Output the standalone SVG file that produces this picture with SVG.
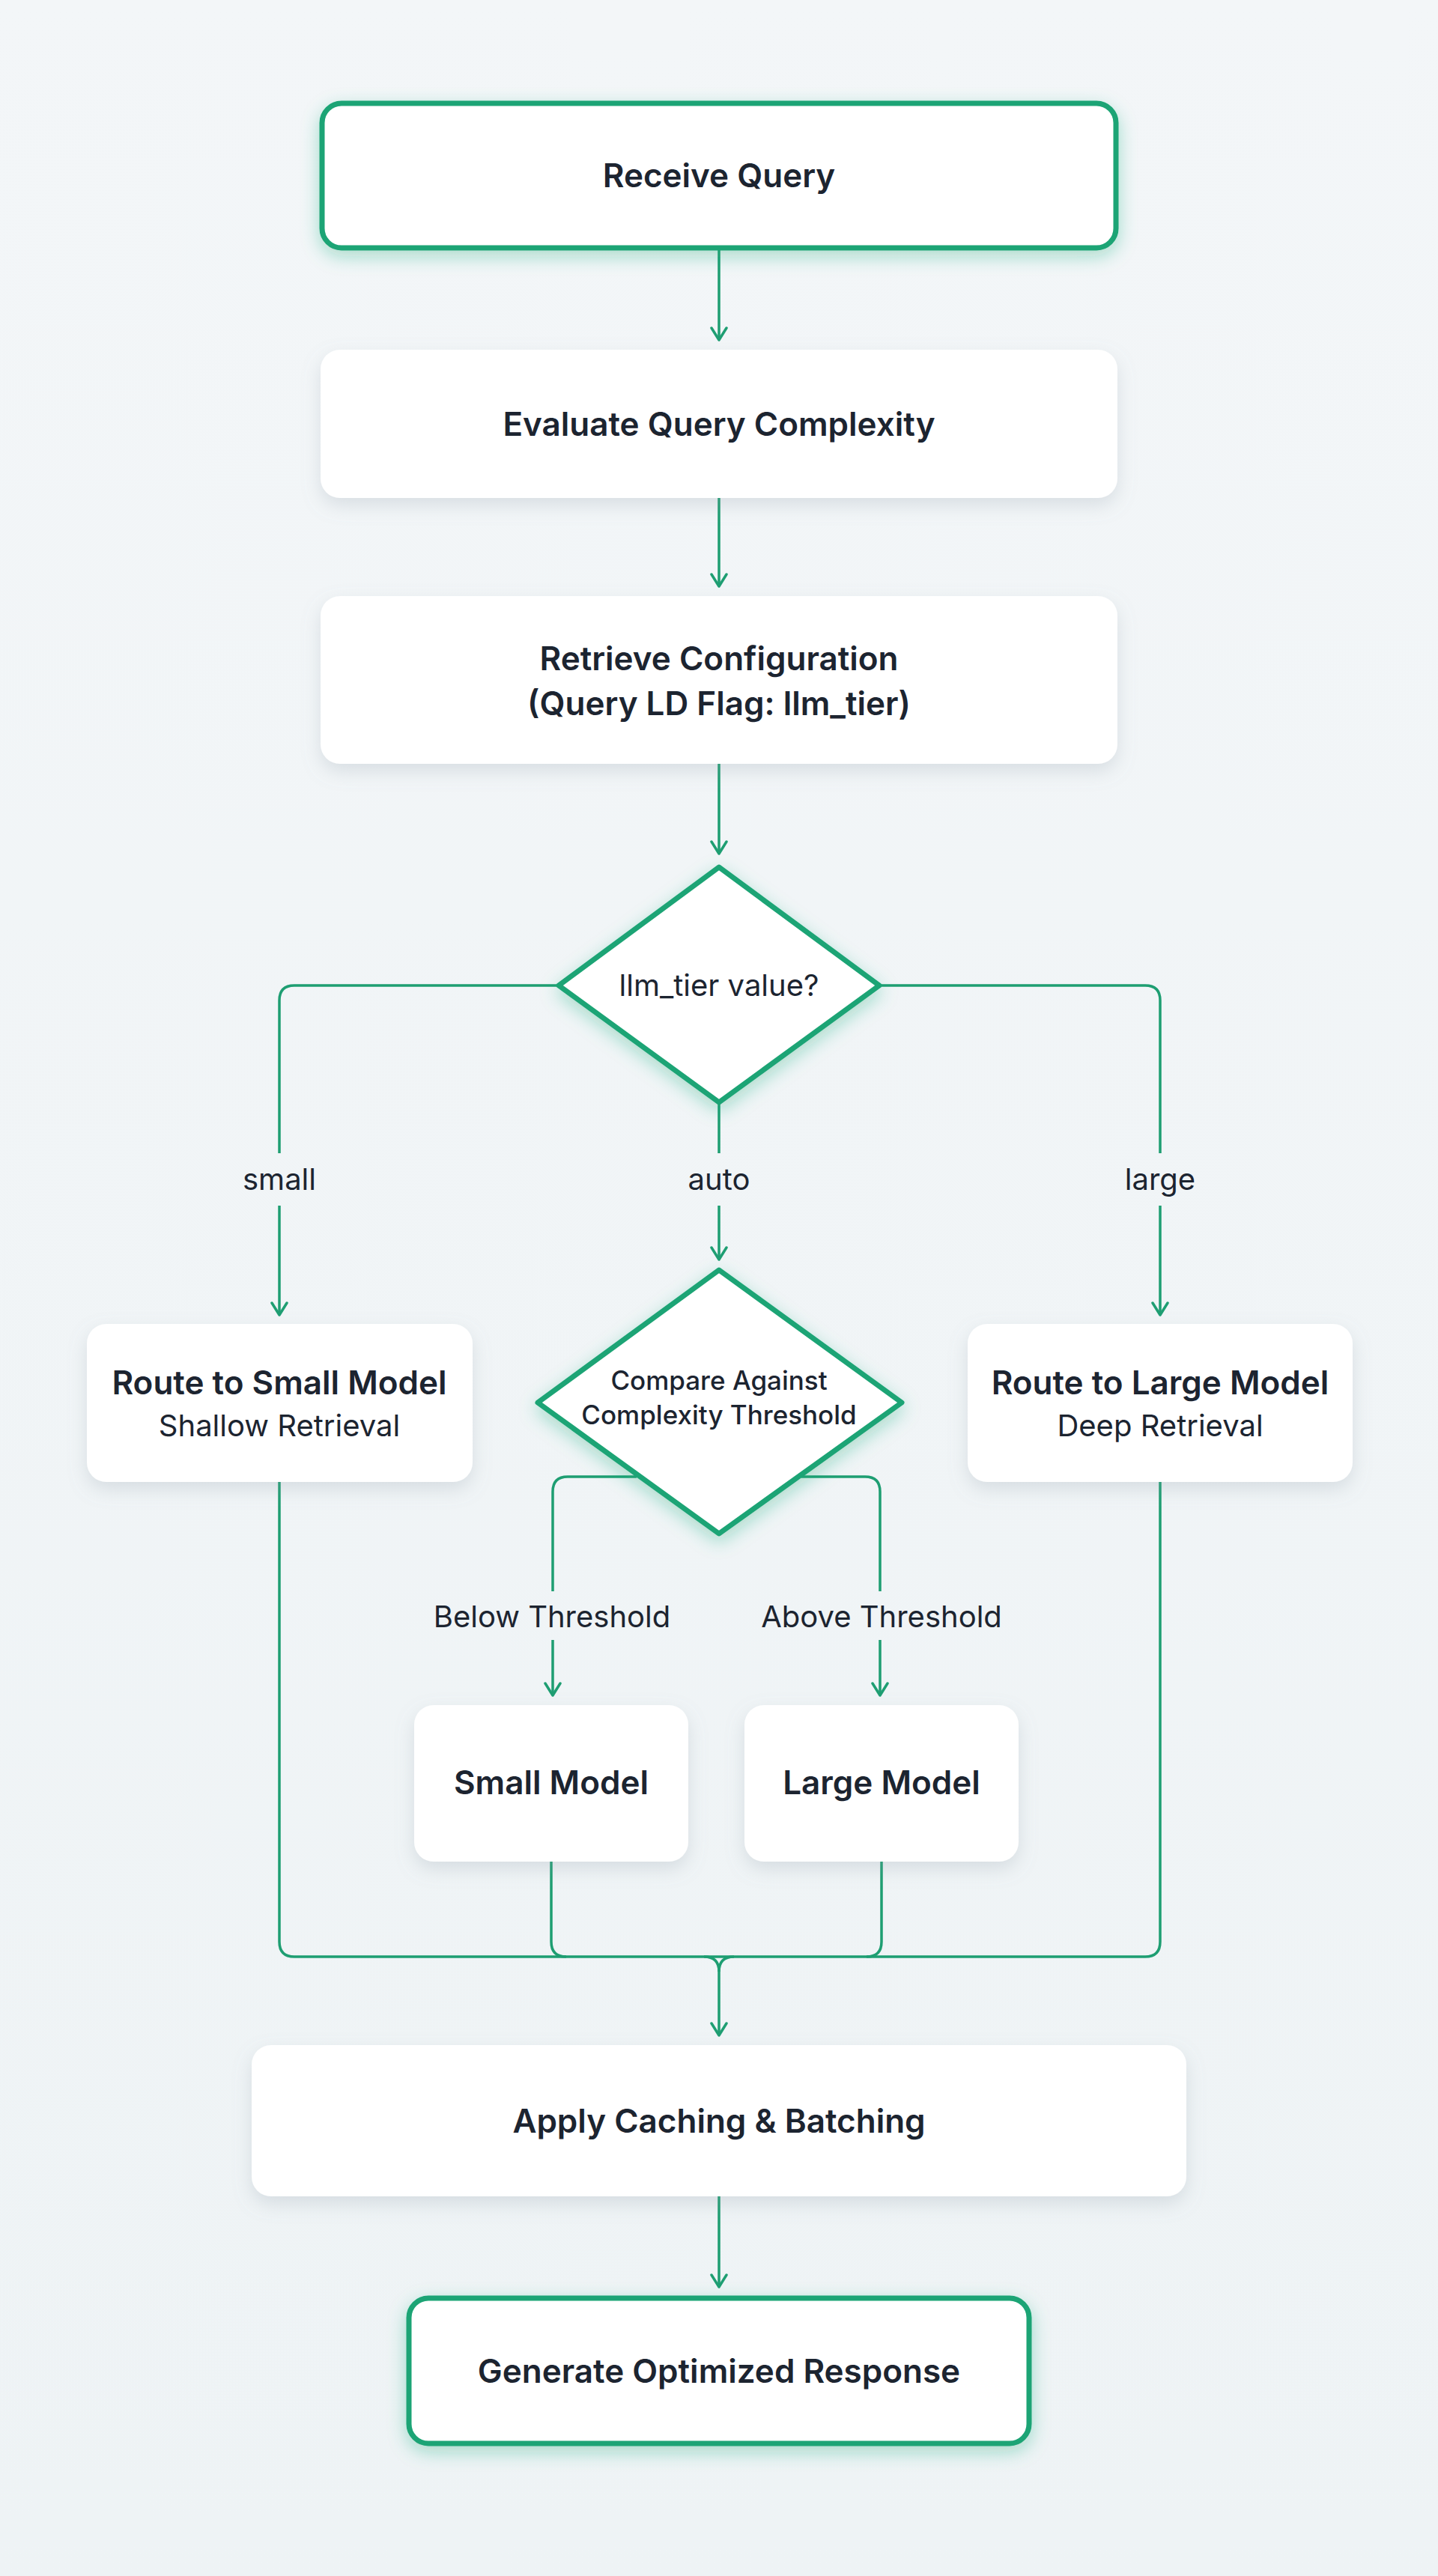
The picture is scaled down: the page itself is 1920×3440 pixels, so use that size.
<svg xmlns="http://www.w3.org/2000/svg" width="1920" height="3440" viewBox="0 0 1920 3440">
<defs>
<linearGradient id="bg" x1="0" y1="0" x2="0" y2="1"><stop offset="0" stop-color="#f3f6f8"/><stop offset="1" stop-color="#eef3f5"/></linearGradient>
<filter id="sh" x="-20%" y="-30%" width="140%" height="170%"><feDropShadow dx="0" dy="10" stdDeviation="12" flood-color="#8a99a6" flood-opacity="0.25"/></filter>
<filter id="gl" x="-20%" y="-30%" width="140%" height="170%"><feDropShadow dx="0" dy="8" stdDeviation="12" flood-color="#1faa7a" flood-opacity="0.35"/></filter>
<marker id="ah" viewBox="0 0 20 24" refX="18" refY="12" markerWidth="20" markerHeight="24" markerUnits="userSpaceOnUse" orient="auto"><path d="M2 2 L18 12 L2 22" fill="none" stroke="#1e9e72" stroke-width="3.5" stroke-linecap="round" stroke-linejoin="round"/></marker>
</defs>
<style>
.box{fill:#fff;filter:url(#sh)}
.key{fill:#fff;stroke:#1aa474;stroke-width:7;filter:url(#gl)}
.t{font-family:Inter,"Noto Sans",sans-serif;font-weight:600;font-size:44px;fill:#1c2430;text-anchor:middle}
.r{font-family:Inter,"Noto Sans",sans-serif;font-weight:400;font-size:40px;fill:#1c2430;text-anchor:middle}
.d{font-family:Inter,"Noto Sans",sans-serif;font-weight:500;font-size:35px;fill:#1c2430;text-anchor:middle}
.c{fill:none;stroke:#1e9e72;stroke-width:3.5}
</style>
<rect width="1920" height="3440" fill="url(#bg)"/>
<g id="connectors">
<path class="c" d="M960 333 V454" marker-end="url(#ah)"/>
<path class="c" d="M960 665 V783" marker-end="url(#ah)"/>
<path class="c" d="M960 1020 V1140" marker-end="url(#ah)"/>
<path class="c" d="M745 1316 H393 Q373 1316 373 1336 V1540"/>
<path class="c" d="M373 1610 V1756" marker-end="url(#ah)"/>
<path class="c" d="M1176 1316 H1529 Q1549 1316 1549 1336 V1540"/>
<path class="c" d="M1549 1610 V1756" marker-end="url(#ah)"/>
<path class="c" d="M960 1474 V1540"/>
<path class="c" d="M960 1610 V1682" marker-end="url(#ah)"/>
<path class="c" d="M850 1972 H758 Q738 1972 738 1992 V2125"/>
<path class="c" d="M738 2190 V2264" marker-end="url(#ah)"/>
<path class="c" d="M1070 1972 H1155 Q1175 1972 1175 1992 V2125"/>
<path class="c" d="M1175 2190 V2264" marker-end="url(#ah)"/>
<path class="c" d="M373 1979 V2593 Q373 2613 393 2613 H1529 Q1549 2613 1549 2593 V1979"/>
<path class="c" d="M736 2486 V2593 Q736 2613 756 2613"/>
<path class="c" d="M1177 2486 V2593 Q1177 2613 1157 2613"/>
<path class="c" d="M940 2613 Q960 2613 960 2633 V2718" marker-end="url(#ah)"/>
<path class="c" d="M980 2613 Q960 2613 960 2633"/>
<path class="c" d="M960 2933 V3054" marker-end="url(#ah)"/>
</g>
<g id="labels">
<text class="r" x="373" y="1589">small</text>
<text class="r" x="960" y="1589">auto</text>
<text class="r" x="1549" y="1589">large</text>
<text class="r" x="737" y="2173">Below Threshold</text>
<text class="r" x="1177" y="2173">Above Threshold</text>
</g>
<g id="n1"><rect class="key" x="430" y="138" width="1060" height="193" rx="26"/><text class="t" x="960" y="250">Receive Query</text></g>
<g id="n2"><rect class="box" x="428" y="467" width="1064" height="198" rx="26"/><text class="t" x="960" y="582">Evaluate Query Complexity</text></g>
<g id="n3"><rect class="box" x="428" y="796" width="1064" height="224" rx="26"/><text class="t" x="960" y="895">Retrieve Configuration</text><text class="t" x="960" y="955">(Query LD Flag: llm_tier)</text></g>
<g id="n4"><path class="key" d="M960 1158 L1174 1316 L960 1472 L746 1316 Z" stroke-linejoin="round"/><text class="r" x="960" y="1330">llm_tier value?</text></g>
<g id="n5"><rect class="box" x="116" y="1768" width="515" height="211" rx="26"/><text class="t" x="373" y="1862">Route to Small Model</text><text class="r" x="373" y="1918">Shallow Retrieval</text></g>
<g id="n6"><path class="key" d="M960 1696 L1204 1873 L960 2048 L718 1873 Z" stroke-linejoin="round"/><text class="d" x="960" y="1856">Compare Against</text><text class="d" x="960" y="1902">Complexity Threshold</text></g>
<g id="n7"><rect class="box" x="1292" y="1768" width="514" height="211" rx="26"/><text class="t" x="1549" y="1862">Route to Large Model</text><text class="r" x="1549" y="1918">Deep Retrieval</text></g>
<g id="n8"><rect class="box" x="553" y="2277" width="366" height="209" rx="26"/><text class="t" x="736" y="2396">Small Model</text></g>
<g id="n9"><rect class="box" x="994" y="2277" width="366" height="209" rx="26"/><text class="t" x="1177" y="2396">Large Model</text></g>
<g id="n10"><rect class="box" x="336" y="2731" width="1248" height="202" rx="26"/><text class="t" x="960" y="2848">Apply Caching &amp; Batching</text></g>
<g id="n11"><rect class="key" x="546" y="3069" width="828" height="194" rx="26"/><text class="t" x="960" y="3182">Generate Optimized Response</text></g>
</svg>
